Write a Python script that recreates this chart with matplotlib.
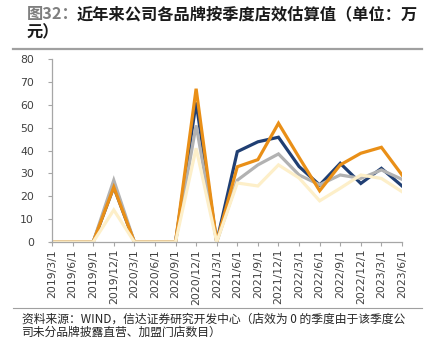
import matplotlib.pyplot as plt
import numpy as np

plt.rcParams['font.family'] = ['Noto Sans CJK SC', 'DejaVu Sans']

quarters = ['2019/3/1', '2019/6/1', '2019/9/1', '2019/12/1', '2020/3/1', '2020/6/1',
            '2020/9/1', '2020/12/1', '2021/3/1', '2021/6/1', '2021/9/1', '2021/12/1',
            '2022/3/1', '2022/6/1', '2022/9/1', '2022/12/1', '2023/3/1', '2023/6/1']

# quarterly store efficiency per brand (10k yuan)
brand_blue = [0, 0, 0, 24, 0, 0, 0, 61, 0, 39.5, 43.8, 45.8, 33, 24.9, 34.4, 25.6, 32.2, 24.5]
brand_gray = [0, 0, 0, 27, 0, 0, 0, 51, 0, 27, 33.7, 38.5, 29.3, 25, 29.3, 27.8, 31.5, 27.4]
brand_orange = [0, 0, 0, 24, 0, 0, 0, 67, 0, 32.9, 36, 51.9, 37, 22.4, 33.7, 38.8, 41.4, 29.3]
brand_cream = [0, 0, 0, 14, 0, 0, 0, 41, 0, 25.8, 24.5, 33.7, 28, 18, 23.5, 29.3, 27.8, 22]

fig = plt.figure(figsize=(4.31, 3.39), dpi=100)
ax = fig.add_axes([52 / 431, 97 / 339, 350 / 431, 183 / 339])

x = np.arange(len(quarters))
ax.plot(x, brand_blue, color='#203F73', lw=2.3, solid_joinstyle='miter')
ax.plot(x, brand_gray, color='#B2B2B2', lw=2.3, solid_joinstyle='miter')
ax.plot(x, brand_orange, color='#E98F17', lw=2.3, solid_joinstyle='miter')
ax.plot(x, brand_cream, color='#FDEFC9', lw=2.3, solid_joinstyle='miter')

ax.set_xlim(0, len(quarters) - 1)
ax.set_ylim(0, 80)
ax.set_yticks(range(0, 81, 10))
ax.set_xticks(x)
ax.set_xticklabels(quarters, rotation=90)
for s in ['top', 'right']:
    ax.spines[s].set_visible(False)
for s in ['left', 'bottom']:
    ax.spines[s].set_color('#A6A6A6')
    ax.spines[s].set_linewidth(0.9)
ax.spines['bottom'].set_bounds(-0.1, len(quarters) - 1)
ax.tick_params(axis='x', colors='#A6A6A6', labelcolor='#404040', labelsize=7.8, length=3, pad=2)
ax.tick_params(axis='y', colors='#A6A6A6', labelcolor='#404040', labelsize=7.8, length=3, pad=10)
for lab in ax.get_yticklabels():
    lab.set_fontfamily('DejaVu Sans')
for lab in ax.get_xticklabels():
    lab.set_fontfamily('DejaVu Sans')

# title, two lines
fig.text(27 / 431, 1 - 14 / 339, '图32：', color='#7F7F7F', fontsize=11.7,
         fontweight='bold', va='center', ha='left')
fig.text(77 / 431, 1 - 14 / 339, '近年来公司各品牌按季度店效估算值（单位：万',
         color='#1A1A1A', fontsize=11.7, fontweight='bold', va='center', ha='left')
fig.text(27 / 431, 1 - 32 / 339, '元）', color='#1A1A1A', fontsize=11.7,
         fontweight='bold', va='center', ha='left')
fig.add_artist(plt.Line2D([13 / 431, 422 / 431], [1 - 49 / 339, 1 - 49 / 339],
                          color='#A0A0A0', lw=1.6))

# source note
fig.add_artist(plt.Line2D([13 / 431, 422 / 431], [1 - 308 / 339, 1 - 308 / 339],
                          color='#A0A0A0', lw=0.8))
fig.text(22 / 431, 1 - 319 / 339, '资料来源：WIND，信达证券研究开发中心（店效为 0 的季度由于该季度公',
         color='#262626', fontsize=8.5, va='center', ha='left')
fig.text(22 / 431, 1 - 332 / 339, '司未分品牌披露直营、加盟门店数目）',
         color='#262626', fontsize=8.5, va='center', ha='left')

fig.savefig('out.png', dpi=100)
